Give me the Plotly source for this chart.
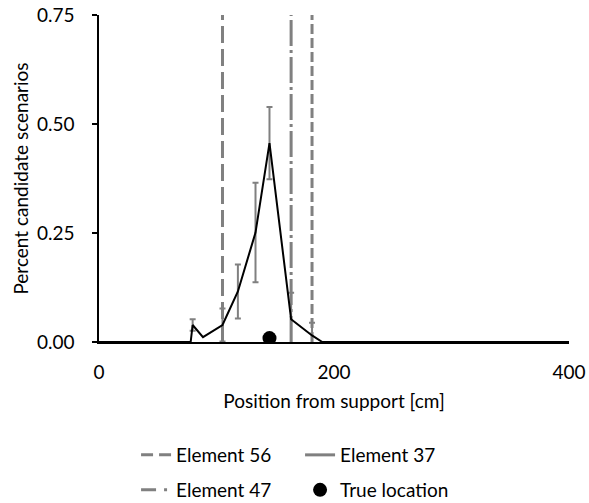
import plotly.graph_objects as go

# Data
positions = [0, 78, 79.7, 88.5, 105.1, 118.2, 133.2, 145.1, 163.5, 181.3, 190, 400]
pct = [0, 0, 0.039, 0.011, 0.039, 0.116, 0.251, 0.456, 0.052, 0.015, 0, 0]
err_pos = [79.7, 105.1, 118.2, 133.2, 145.1, 163.5, 181.3]
err_val = [0.039, 0.039, 0.116, 0.251, 0.456, 0.052, 0.015]
err_size = [0.013, 0.038, 0.062, 0.114, 0.083, 0.061, 0.029]

element_names = ["Element 56", "Element 37", "Element 47"]
element_pos = [105.1, 181.3, 163.5]
element_dash = ["17px,6px", "10px,4px", "26px,4px,3px,4px"]
element_legend_dash = ["12px,6px", "solid", "15px,8px,3px,8px"]
element_legend = ["legend", "legend", "legend2"]

true_pos = [145.1]
true_val = [0.009]

x_ticks = [0, 200, 400]
y_ticks = [0, 0.25, 0.5, 0.75]

FONT = "Lato"
GRAY = "#808080"

fig = go.Figure()

# vertical element lines in the plot
for name, xv, dash in zip(element_names, element_pos, element_dash):
    fig.add_trace(go.Scatter(
        x=[xv, xv], y=[0, 0.75], mode="lines", name=name, showlegend=False,
        line=dict(color=GRAY, width=3, dash=dash),
        cliponaxis=False, hoverinfo="skip"))

# legend entries for the element lines (legend-sized dash patterns)
for name, dash, lg in zip(element_names, element_legend_dash, element_legend):
    fig.add_trace(go.Scatter(
        x=[None], y=[None], mode="lines", name=name,
        line=dict(color=GRAY, width=3, dash=dash), legend=lg))

fig.add_trace(go.Scatter(
    x=err_pos, y=err_val, mode="markers", showlegend=False,
    marker=dict(size=1, color="rgba(0,0,0,0)"),
    error_y=dict(type="data", array=err_size, color=GRAY, thickness=2, width=3)))

fig.add_trace(go.Scatter(
    x=positions, y=pct, mode="lines", showlegend=False,
    line=dict(color="black", width=2)))

fig.add_trace(go.Scatter(
    x=true_pos, y=true_val, mode="markers", name="True location",
    marker=dict(color="black", size=14), legend="legend2"))

legend_common = dict(
    orientation="h", xanchor="left", yanchor="middle",
    xref="container", yref="container",
    font=dict(family=FONT, size=19, color="black"),
    entrywidth=119, entrywidthmode="pixels",
    bgcolor="rgba(0,0,0,0)", borderwidth=0, traceorder="normal",
    itemclick=False, itemdoubleclick=False)

fig.update_layout(
    width=589, height=503,
    margin=dict(l=99, r=20, t=15, b=161, autoexpand=False),
    paper_bgcolor="white", plot_bgcolor="white",
    font=dict(family=FONT, size=19, color="black"),
    legend=dict(x=0.231, y=0.0954, **legend_common),
    legend2=dict(x=0.231, y=0.0258, **legend_common),
    xaxis=dict(
        range=[0, 400], tickvals=x_ticks, ticktext=[str(v) for v in x_ticks],
        showgrid=False, zeroline=False, showline=True, linecolor="black", linewidth=2,
        ticks="", ticklabelstandoff=12, automargin=False, ticklabeloverflow="allow",
        tickfont=dict(family=FONT, size=19, color="black"),
        title=dict(text="Position from support [cm]", standoff=13,
                   font=dict(family=FONT, size=19, color="black"))),
    yaxis=dict(
        range=[0, 0.75], tickvals=y_ticks, tickformat=".2f",
        showgrid=False, zeroline=False, showline=True, linecolor="black", linewidth=1.5,
        ticks="outside", ticklen=5, tickcolor="black", tickwidth=1.5, ticklabelstandoff=14,
        automargin=False, ticklabeloverflow="allow",
        tickfont=dict(family=FONT, size=19, color="black"),
        title=dict(text="Percent candidate scenarios", standoff=3,
                   font=dict(family=FONT, size=19, color="black"))),
)

# remove the default page margin so the figure fills the window exactly
fig.write_html(
    "out.html",
    config={"displayModeBar": False},
    post_script="document.body.style.margin='0';document.body.style.overflow='hidden';")
